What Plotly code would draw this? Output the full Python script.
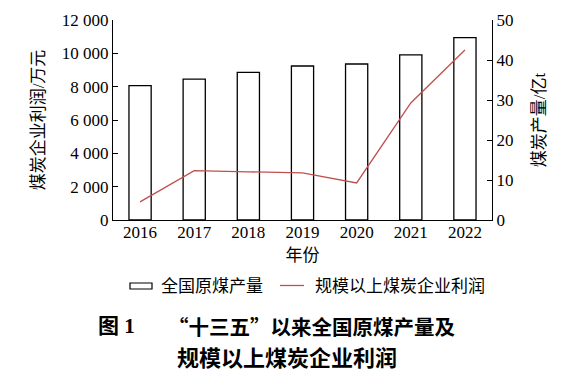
import plotly.graph_objects as go

years = ["2016", "2017", "2018", "2019", "2020", "2021", "2022"]
production = [33.6, 35.2, 36.9, 38.5, 39.0, 41.3, 45.6]          # 亿t
profit = [1090, 2959, 2888, 2830, 2222, 7023, 10203]               # 万元
left_ticks = [0, 2000, 4000, 6000, 8000, 10000, 12000]
left_ticktext = ["0", "2 000", "4 000", "6 000", "8 000", "10 000", "12 000"]
right_ticks = [0, 10, 20, 30, 40, 50]

SERIF = "Liberation Serif, Times New Roman, Noto Sans CJK SC, serif"
RED = "rgb(192,80,77)"

fig = go.Figure()
fig.add_trace(go.Bar(
    x=years, y=production, yaxis="y", name="全国原煤产量",
    marker=dict(color="white", line=dict(color="black", width=1.3)),
    width=0.41, showlegend=False,
))
fig.add_trace(go.Scatter(
    x=years, y=profit, yaxis="y2", name="规模以上煤炭企业利润",
    mode="lines", line=dict(color=RED, width=1.3), showlegend=False,
))

axis_common = dict(
    showline=True, linecolor="black", linewidth=1.2,
    ticks="inside", ticklen=5, tickcolor="black", tickwidth=1.2,
    showgrid=False, zeroline=False, automargin=False,
    tickfont=dict(family=SERIF, size=17, color="black"),
)

fig.update_layout(
    width=565, height=385, autosize=False,
    margin=dict(l=113, r=73, t=20, b=165),
    plot_bgcolor="white", paper_bgcolor="white",
    font=dict(family=SERIF, size=17, color="black"),
    xaxis=dict(
        type="category", range=[-0.5, 6.5], automargin=False,
        showline=True, linecolor="black", linewidth=1.2,
        ticks="", showgrid=False, zeroline=False, ticklabelstandoff=-4,
        tickfont=dict(family=SERIF, size=17, color="black"),
        title=dict(text="年份", font=dict(family=SERIF, size=17), standoff=8),
    ),
    yaxis=dict(
        side="right", range=[0, 50], tickvals=right_ticks,
        title=dict(text="煤炭产量/亿t", font=dict(family=SERIF, size=17), standoff=20),
        **axis_common,
    ),
    yaxis2=dict(
        side="left", overlaying="y", range=[0, 12000],
        tickvals=left_ticks, ticktext=left_ticktext,
        title=dict(text="煤炭企业利润/万元", font=dict(family=SERIF, size=17), standoff=12),
        **axis_common,
    ),
)

# Custom legend
fig.add_shape(type="rect", xref="paper", yref="paper",
              x0=(130 - 113) / 379, x1=(152 - 113) / 379,
              y0=(220 - 289) / 200, y1=(220 - 283) / 200,
              line=dict(color="black", width=1.2), fillcolor="white")
fig.add_annotation(text="全国原煤产量", xref="paper", yref="paper",
                   x=(159 - 113) / 379, y=(220 - 286) / 200,
                   xanchor="left", yanchor="middle", showarrow=False,
                   font=dict(family=SERIF, size=17, color="black"))
fig.add_shape(type="line", xref="paper", yref="paper",
              x0=(280 - 113) / 379, x1=(304 - 113) / 379,
              y0=(220 - 285.5) / 200, y1=(220 - 285.5) / 200,
              line=dict(color=RED, width=1.3))
fig.add_annotation(text="规模以上煤炭企业利润", xref="paper", yref="paper",
                   x=(313 - 113) / 379, y=(220 - 286) / 200,
                   xanchor="left", yanchor="middle", showarrow=False,
                   font=dict(family=SERIF, size=17, color="black"))

# Caption
BOLD = "Noto Sans CJK SC, sans-serif"
fig.add_annotation(text="<b>图 1</b>", xref="paper", yref="paper",
                   x=(96 - 113) / 379, y=(220 - 326) / 200,
                   xanchor="left", yanchor="middle", showarrow=False,
                   font=dict(family=SERIF, size=21, color="black"))
fig.add_annotation(text="<b>“十三五”以来全国原煤产量及</b>", xref="paper", yref="paper",
                   x=(166 - 113) / 379, y=(220 - 326) / 200,
                   xanchor="left", yanchor="middle", showarrow=False,
                   font=dict(family=BOLD, size=20.5, color="black"))
fig.add_annotation(text="<b>规模以上煤炭企业利润</b>", xref="paper", yref="paper",
                   x=(175 - 113) / 379, y=(220 - 356) / 200,
                   xanchor="left", yanchor="middle", showarrow=False,
                   font=dict(family=BOLD, size=22, color="black"))

fig.write_html(
    "out.html",
    config={"responsive": False, "displayModeBar": False},
    post_script="document.body.style.margin='0';document.body.style.padding='0';",
)
